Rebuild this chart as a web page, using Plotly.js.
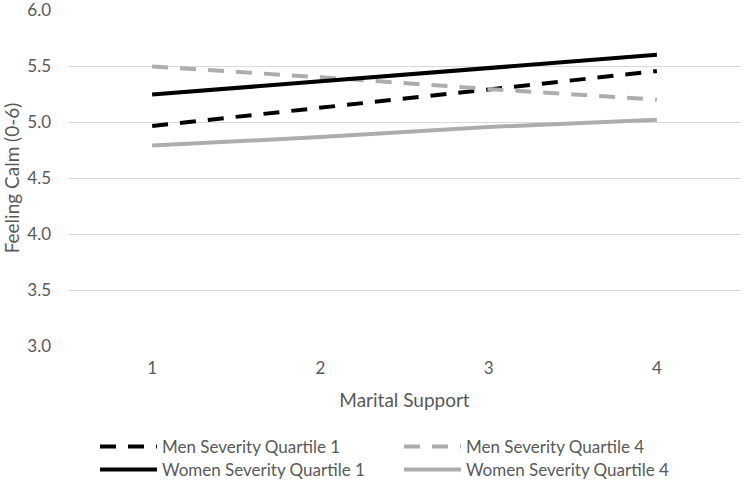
<!DOCTYPE html>
<html>
<head>
<meta charset="utf-8">
<script src="https://cdn.plot.ly/plotly-3.0.1.min.js"></script>
<style>html,body{margin:0;padding:0;background:#fff;}#chart{width:745px;height:481px;}</style>
</head>
<body>
<div id="chart"></div>
<script>
const categories = ['1', '2', '3', '4'];
const menQ1 = [4.965, 5.125, 5.29, 5.455];
const menQ4 = [5.495, 5.40, 5.295, 5.20];
const womenQ1 = [5.245, 5.365, 5.48, 5.60];
const womenQ4 = [4.79, 4.865, 4.955, 5.02];
const seriesNames = ['Men Severity Quartile 1', 'Men Severity Quartile 4', 'Women Severity Quartile 1', 'Women Severity Quartile 4'];
const yTicks = [3.0, 3.5, 4.0, 4.5, 5.0, 5.5, 6.0];

const FONT = 'Lato, Open Sans, sans-serif';
const TXT = '#595959';
const grey = '#ADADAD';
const traces = [
  {x: categories, y: menQ1, name: seriesNames[0], mode: 'lines', line: {color: '#000', width: 4, dash: '16px,12px'}, legend: 'legend'},
  {x: categories, y: menQ4, name: seriesNames[1], mode: 'lines', line: {color: grey, width: 4, dash: '16px,12px'}, legend: 'legend2'},
  {x: categories, y: womenQ1, name: seriesNames[2], mode: 'lines', line: {color: '#000', width: 4}, legend: 'legend3'},
  {x: categories, y: womenQ4, name: seriesNames[3], mode: 'lines', line: {color: grey, width: 4}, legend: 'legend4'}
];
const legendCommon = {orientation: 'v', yanchor: 'middle', xanchor: 'left',
  bgcolor: 'rgba(0,0,0,0)', font: {family: FONT, size: 17, color: TXT}, itemwidth: 57};
const lx1 = 0.0401, lx2 = 0.4918, ly1 = -0.3006, ly2 = -0.369;
const layout = {
  width: 745, height: 481,
  margin: {l: 68, r: 4, t: 10, b: 135, autoexpand: false},
  paper_bgcolor: '#fff', plot_bgcolor: '#fff',
  font: {family: FONT, color: TXT, size: 17},
  xaxis: {
    type: 'category', range: [-0.5, 3.5], showgrid: false, zeroline: false, showline: false,
    ticks: '', ticklabelstandoff: 10, tickfont: {size: 17, color: TXT},
    title: {text: 'Marital Support', font: {size: 19, color: TXT}, standoff: 16}
  },
  yaxis: {
    range: [3.0, 6.0], tickvals: yTicks, ticktext: yTicks.map(v => v.toFixed(1)),
    showgrid: true, gridcolor: '#D9D9D9', gridwidth: 1, zeroline: false, showline: false,
    ticks: '', ticklabelstandoff: 16, ticklabeloverflow: 'allow', tickfont: {size: 17, color: TXT},
    title: {text: 'Feeling Calm (0-6)', font: {size: 19, color: TXT}, standoff: 8}
  },
  showlegend: true,
  legend: Object.assign({}, legendCommon, {x: lx1, y: ly1}),
  legend2: Object.assign({}, legendCommon, {x: lx2, y: ly1}),
  legend3: Object.assign({}, legendCommon, {x: lx1, y: ly2}),
  legend4: Object.assign({}, legendCommon, {x: lx2, y: ly2})
};
Plotly.newPlot('chart', traces, layout, {displayModeBar: false, staticPlot: true});
</script>
</body>
</html>
